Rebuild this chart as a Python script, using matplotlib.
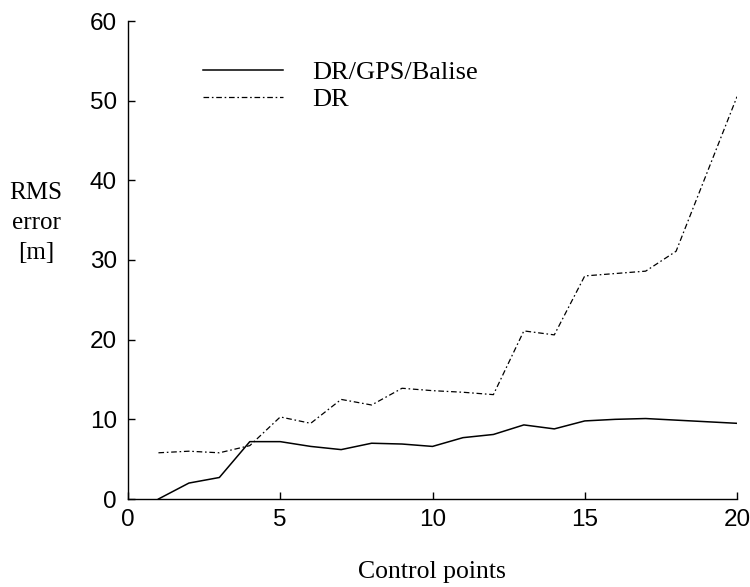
import matplotlib
matplotlib.use("Agg")
import matplotlib.pyplot as plt

control_points = list(range(1, 21))
rms_dr_gps_balise = [0.0, 2.0, 2.7, 7.2, 7.2, 6.6, 6.2, 7.0, 6.9, 6.6,
                     7.7, 8.1, 9.3, 8.8, 9.8, 10.0, 10.1, 9.9, 9.7, 9.5]
rms_dr = [5.8, 6.0, 5.8, 6.7, 10.3, 9.5, 12.5, 11.8, 13.9, 13.6,
          13.4, 13.1, 21.1, 20.6, 28.0, 28.3, 28.6, 31.1, 40.8, 50.5]
series_labels = ["DR/GPS/Balise", "DR"]
x_ticks = [0, 5, 10, 15, 20]
y_ticks = [0, 10, 20, 30, 40, 50, 60]

serif = "Liberation Serif"
sans = "Liberation Sans"

fig = plt.figure(figsize=(7.5, 5.87), dpi=100)
ax = fig.add_axes([128 / 750, 1 - 499 / 587, (737 - 128) / 750, (499 - 21) / 587])

ax.plot(control_points, rms_dr_gps_balise, color="black", lw=1.1,
        label=series_labels[0])
ax.plot(control_points, rms_dr, color="black", lw=0.9,
        linestyle=(0, (4.5, 2.2, 1.3, 2.2)), label=series_labels[1])

ax.set_xlim(0, 20)
ax.set_ylim(0, 60)
ax.set_xticks(x_ticks)
ax.set_yticks(y_ticks)
ax.spines["top"].set_visible(False)
ax.spines["right"].set_visible(False)
for s in ("left", "bottom"):
    ax.spines[s].set_linewidth(1.0)
ax.tick_params(direction="in", length=5, width=1.0, labelsize=17.5)
ax.tick_params(axis="y", pad=8)
ax.tick_params(axis="x", pad=7)
for lab in ax.get_xticklabels() + ax.get_yticklabels():
    lab.set_fontfamily(sans)

fig.text(36 / 750, 1 - 223 / 587, "RMS\nerror\n[m]", ha="center", va="center",
         fontsize=18, family=serif, linespacing=1.45)
fig.text(432 / 750, 1 - 572 / 587, "Control points", ha="center", va="center",
         fontsize=18.5, family=serif)

ax.legend(loc="upper left", bbox_to_anchor=(203 / 750, 1 - 61 / 587),
          bbox_transform=fig.transFigure, frameon=False, borderpad=0,
          borderaxespad=0, handlelength=3.03, handletextpad=1.1,
          labelspacing=0.13, prop={"family": serif, "size": 19})

fig.savefig("out.png", dpi=100)
